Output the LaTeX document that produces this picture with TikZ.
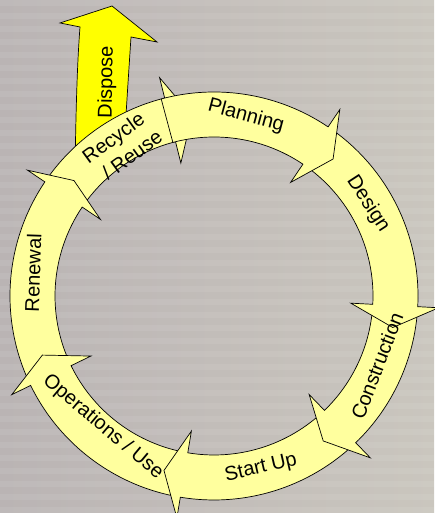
\documentclass[tikz,border=0pt]{standalone}
\usepackage{fontspec}
\setmainfont{Liberation Sans}
\definecolor{ringyellow}{RGB}{255,255,158}
\definecolor{dispyellow}{RGB}{255,255,0}
\definecolor{bgleft}{RGB}{186,180,180}
\definecolor{bgright}{RGB}{202,198,190}
\newcommand\ringseg[3]{%
  \draw[seg] (#1:204) arc[start angle=#1, end angle=#2, radius=204]
    -- (#2:225) -- (#3:181.5) -- (#2:137) -- (#2:159)
    arc[start angle=#2, end angle=#1, radius=159] -- cycle;}
\begin{document}
\begin{tikzpicture}[x=1pt,y=1pt,
  seg/.style={draw=black, line width=0.7pt, fill=ringyellow, line join=miter},
  lbl/.style={font=\fontsize{20}{25}\selectfont, inner sep=0pt, text=black}]
\useasboundingbox (0,0) rectangle (434,513);
\shade[left color=bgleft, right color=bgright] (0,0) rectangle (434,513);
\foreach \yy in {0,13,...,507} \fill[white,opacity=0.07] (0,\yy) rectangle (434,\yy+6);
% Dispose arrow
\draw[draw=black, line width=0.7pt, fill=dispyellow, line join=miter]
  (75,338) .. controls (76,420) and (78,460) .. (80,486)
  -- (60,490) -- (112,507) -- (157,471) -- (131,476)
  .. controls (128,430) and (126,400) .. (124,363) -- cycle;
\node[lbl, rotate=89] (dispose) at (107,431) {Dispose};
% ring segments, drawn so each head lies over the next tail
\begin{scope}[shift={(214,217)}]
  \ringseg{-214}{-256}{-263}   % Recycle / Reuse
  \ringseg{-154}{-214}{-219.5} % Renewal
  \ringseg{-99.5}{-154}{-161}  % Operations / Use
  \ringseg{-46}{-99.5}{-106}   % Start Up
  \ringseg{-3}{-46}{-53}       % Construction
  \ringseg{56}{-3}{-10}        % Design
  \ringseg{105}{56}{49}        % Planning
\end{scope}
\node[lbl, rotate=-15] (planning) at (246,397) {Planning};
\node[lbl, rotate=-57] (design) at (368,309) {Design};
\node[lbl, rotate=69] (construction) at (377,147) {Construction};
\node[lbl, rotate=13] (startup) at (261,45) {Start Up};
\node[lbl, rotate=-40] (operations) at (103,86) {Operations / Use};
\node[lbl, rotate=88] (renewal) at (33,240) {Renewal};
\node[lbl, rotate=36, align=center] (recycle) at (120.5,365.5) {Recycle\\\hspace*{10pt}/ Reuse};
\end{tikzpicture}
\end{document}
